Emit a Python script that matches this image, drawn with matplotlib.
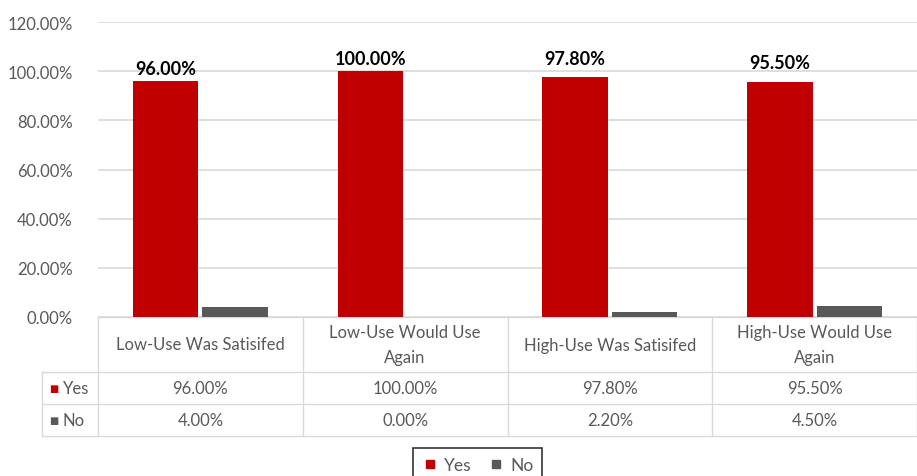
import matplotlib.pyplot as plt
import matplotlib.transforms as mtransforms
from matplotlib.lines import Line2D

plt.rcParams['font.family'] = ['Lato', 'DejaVu Sans']

# Data
categories = ["Low-Use Was Satisifed", "Low-Use Would Use\nAgain",
              "High-Use Was Satisifed", "High-Use Would Use\nAgain"]
yes_vals = [96.0, 100.0, 97.8, 95.5]
no_vals = [4.0, 0.0, 2.2, 4.5]
series_names = ["Yes", "No"]

RED = "#C00000"
GREY = "#595959"
TXT = "#595959"
GRID = "#D9D9D9"

W, H = 917, 477
fig = plt.figure(figsize=(W / 100, H / 100), dpi=100)


def fy(px):
    return 1 - px / H


def fx(px):
    return px / W


ax = fig.add_axes([fx(98), fy(318), fx(917 - 98), (318 - 23) / H])

x = list(range(len(categories)))
bw = 0.32
ax.bar([i - 0.17 for i in x], yes_vals, bw, color=RED, zorder=3)
ax.bar([i + 0.17 for i in x], no_vals, bw, color=GREY, zorder=3)

# data labels on the Yes bars (some were nudged up in the original)
label_pad = [4, 4, 10, 11]
for i, v in enumerate(yes_vals):
    ax.annotate(f"{v:.2f}%", (i - 0.17, v), xytext=(0, label_pad[i]),
                textcoords="offset pixels", ha="center", va="bottom",
                fontsize=13, fontweight="bold", color="black")

ax.set_xlim(-0.5, len(categories) - 0.5)
ax.set_ylim(0, 120)
ax.set_yticks(range(0, 121, 20))
ax.set_yticklabels([f"{t:.2f}%" for t in range(0, 121, 20)])
ax.tick_params(axis="y", length=0, pad=18, labelsize=12, labelcolor=TXT)
ax.tick_params(axis="x", length=0, labelbottom=False)
ax.grid(axis="y", color=GRID, linewidth=1.2, zorder=0)
for s in ax.spines.values():
    s.set_visible(False)

# Data table below the plot
tr = mtransforms.blended_transform_factory(ax.transData, fig.transFigure)
row_y = [318, 373, 405, 437]
left = -0.5
right = len(categories) - 0.5
lw = 1.0

# horizontal lines
ax.plot([left, right], [fy(row_y[0])] * 2, transform=tr, color=GRID, lw=lw, clip_on=False)
for yy in row_y[1:]:
    fig.add_artist(plt.Line2D([fx(42), 1], [fy(yy)] * 2, color=GRID, lw=lw))
# vertical lines
for k in range(len(categories) + 1):
    ax.plot([left + k, left + k], [fy(row_y[0]), fy(row_y[-1])], transform=tr,
            color=GRID, lw=lw, clip_on=False)
fig.add_artist(plt.Line2D([fx(42), fx(42)], [fy(row_y[1]), fy(row_y[-1])], color=GRID, lw=lw))

for i, c in enumerate(categories):
    ax.text(i, fy((row_y[0] + row_y[1]) / 2), c, transform=tr, ha="center", va="center",
            fontsize=12, color=TXT, linespacing=1.65)
    ax.text(i, fy((row_y[1] + row_y[2]) / 2), f"{yes_vals[i]:.2f}%", transform=tr,
            ha="center", va="center", fontsize=12, color=TXT)
    ax.text(i, fy((row_y[2] + row_y[3]) / 2), f"{no_vals[i]:.2f}%", transform=tr,
            ha="center", va="center", fontsize=12, color=TXT)

for r, (name, col) in enumerate(zip(series_names, [RED, GREY])):
    yc = fy((row_y[r + 1] + row_y[r + 2]) / 2)
    fig.text(fx(54), yc, "\u25A0", color=col, fontsize=7, ha="center", va="center",
             family="DejaVu Sans")
    fig.text(fx(63), yc, name, color=TXT, fontsize=12, ha="left", va="center")

# Legend
handles = [Line2D([], [], marker="s", linestyle="none", markersize=5.5, color=c, label=n)
           for c, n in zip([RED, GREY], series_names)]
leg = fig.legend(handles=handles, loc="upper center", bbox_to_anchor=(fx(477.5), fy(449)),
                 ncol=2, frameon=True, fontsize=12.5, handlelength=1.0,
                 handletextpad=0.3, columnspacing=0.9, borderpad=0.5, fancybox=False,
                 borderaxespad=0)
leg.get_frame().set_edgecolor("black")
leg.get_frame().set_linewidth(1.2)
for t in leg.get_texts():
    t.set_color(TXT)

plt.savefig("out.png", dpi=100)
